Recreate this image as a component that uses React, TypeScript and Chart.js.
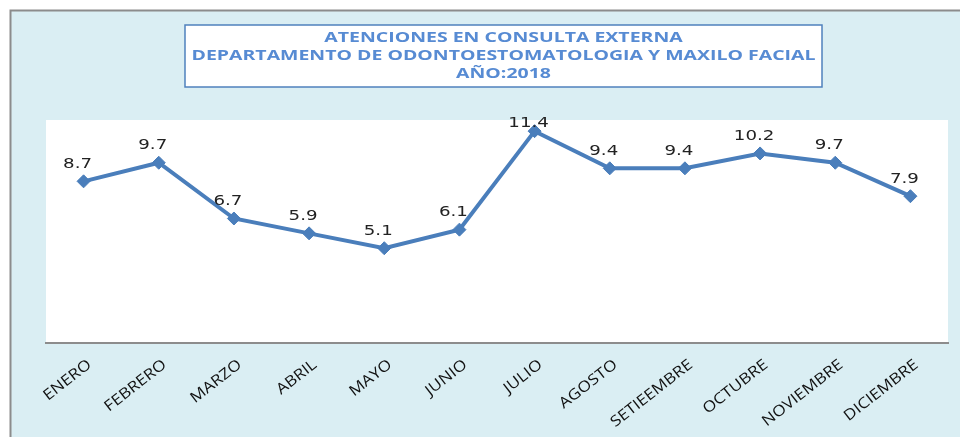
import React, { useEffect, useRef } from "react";
import { Chart, registerables } from "chart.js";

Chart.register(...registerables);

const categories = [
  "ENERO", "FEBRERO", "MARZO", "ABRIL", "MAYO", "JUNIO",
  "JULIO", "AGOSTO", "SETIEEMBRE", "OCTUBRE", "NOVIEMBRE", "DICIEMBRE",
];
const atenciones = [8.7, 9.7, 6.7, 5.9, 5.1, 6.1, 11.4, 9.4, 9.4, 10.2, 9.7, 7.9];
const titleLines = [
  "ATENCIONES EN CONSULTA EXTERNA",
  "DEPARTAMENTO DE ODONTOESTOMATOLOGIA Y MAXILO FACIAL",
  "AÑO:2018",
];

const LINE = "#4a7ebb";
const BG = "#daeef3";

const framePlugin = {
  id: "frame",
  beforeDraw(chart: any) {
    const { ctx, width, height, chartArea } = chart;
    ctx.save();
    ctx.fillStyle = "#ffffff";
    ctx.fillRect(0, 0, width, height);
    ctx.fillStyle = BG;
    ctx.fillRect(11, 11, width - 11, height - 11);
    ctx.strokeStyle = "#8c8c8c";
    ctx.lineWidth = 2;
    ctx.beginPath();
    ctx.moveTo(10.5, height);
    ctx.lineTo(10.5, 10.5);
    ctx.lineTo(width, 10.5);
    ctx.stroke();
    // plot area
    ctx.fillStyle = "#ffffff";
    ctx.fillRect(chartArea.left, chartArea.top, chartArea.right - chartArea.left, chartArea.bottom - chartArea.top);
    // title box
    const bx = 185, by = 25, bw = 637, bh = 62;
    ctx.fillStyle = "#ffffff";
    ctx.fillRect(bx, by, bw, bh);
    ctx.strokeStyle = "#4f81bd";
    ctx.lineWidth = 1.5;
    ctx.strokeRect(bx, by, bw, bh);
    ctx.font = 'bold 15px "Open Sans"';
    const sx = 624 / ctx.measureText(titleLines[1]).width;
    ctx.fillStyle = "#578bd3";
    ctx.textAlign = "center";
    ctx.textBaseline = "middle";
    titleLines.forEach((t, i) => {
      ctx.save();
      ctx.translate(bx + bw / 2, 38 + i * 18);
      ctx.scale(sx, 1);
      ctx.fillText(t, 0, 0);
      ctx.restore();
    });
    ctx.restore();
  },
  afterDraw(chart: any) {
    const { ctx, chartArea } = chart;
    const xs = chart.scales.x;
    ctx.save();
    // x labels (rotated, widened along baseline)
    ctx.font = '15px "Open Sans"';
    ctx.fillStyle = "#111111";
    ctx.textAlign = "right";
    ctx.textBaseline = "middle";
    (chart.data.labels as string[]).forEach((lab, i) => {
      const x = xs.getPixelForValue(i);
      ctx.save();
      ctx.translate(x + 6, chartArea.bottom + 20);
      ctx.rotate((-38 * Math.PI) / 180);
      ctx.scale(1.15, 1);
      ctx.fillText(lab, 0, 0);
      ctx.restore();
    });
    // data labels
    const meta = chart.getDatasetMeta(0);
    ctx.font = '14px "DejaVu Sans"';
    ctx.fillStyle = "#222222";
    ctx.textAlign = "center";
    ctx.textBaseline = "middle";
    meta.data.forEach((pt: any, i: number) => {
      const v = chart.data.datasets[0].data[i] as number;
      const y = Math.max(pt.y - 17, chartArea.top + 3);
      ctx.save();
      ctx.translate(pt.x - 6, y);
      ctx.scale(1.3, 1);
      ctx.fillText(v.toFixed(1), 0, 0);
      ctx.restore();
    });
    ctx.restore();
  },
};

export default function App() {
  const ref = useRef<HTMLCanvasElement | null>(null);
  useEffect(() => {
    if (!ref.current) return;
    const chart = new Chart(ref.current, {
      type: "line",
      data: {
        labels: categories,
        datasets: [
          {
            data: atenciones,
            borderColor: LINE,
            backgroundColor: LINE,
            borderWidth: 4,
            pointStyle: "rectRot",
            pointRadius: 6.5,
            pointBorderWidth: 1,
            pointBackgroundColor: LINE,
            pointBorderColor: LINE,
            tension: 0,
            clip: false as any,
          },
        ],
      },
      options: {
        animation: false,
        responsive: false,
        devicePixelRatio: 1,
        layout: { padding: { left: 46, right: 12, top: 120, bottom: 0 } },
        plugins: { legend: { display: false }, tooltip: { enabled: false }, title: { display: false } },
        scales: {
          x: {
            offset: true,
            grid: { display: false },
            border: { display: true, color: "#8c8c8c", width: 2 },
            ticks: { display: false },
            afterFit: (s: any) => {
              s.height = 94;
              s.paddingLeft = 0;
              s.paddingRight = 0;
            },
          },
          y: { display: false, min: 0, max: 12 },
        },
      },
      plugins: [framePlugin],
    });
    return () => chart.destroy();
  }, []);
  return (
    <div style={{ position: "fixed", left: 0, top: 0, width: 960, height: 437 }}>
      <canvas ref={ref} width={960} height={437} style={{ display: "block", width: 960, height: 437 }} />
    </div>
  );
}
